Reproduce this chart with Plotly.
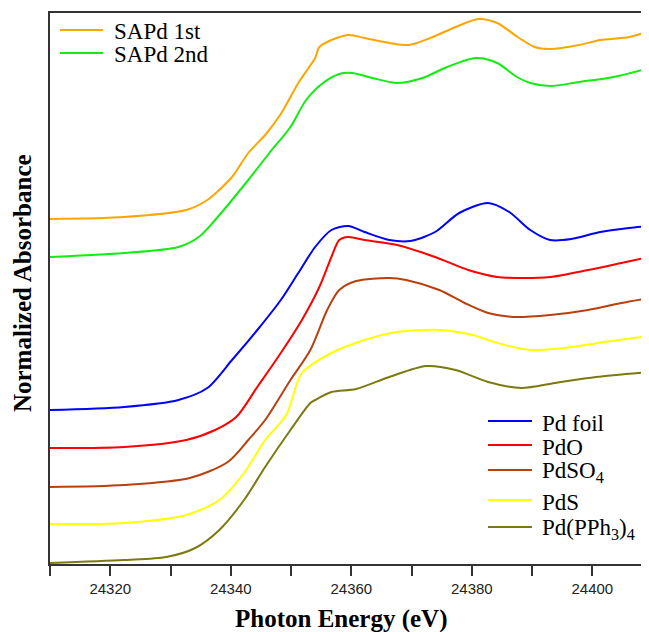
import plotly.graph_objects as go

# Photon energy (eV) and normalized absorbance (stacked with offsets)
sapd1_x = [24310.0, 24322.3, 24332.6, 24336.1, 24340.2, 24342.9, 24345.7, 24348.4, 24351.2, 24352.9,
           24354.0, 24354.7, 24356.7, 24359.5, 24362.2, 24366.3, 24369.5, 24373.1, 24377.3, 24381.1,
           24384.2, 24387.6, 24390.4, 24393.0, 24397.8, 24401.3, 24406.1, 24409.4]
sapd1_y = [3.45, 3.47, 3.54, 3.64, 3.87, 4.11, 4.29, 4.51, 4.81, 4.96,
           5.06, 5.17, 5.24, 5.29, 5.26, 5.21, 5.19, 5.26, 5.37, 5.45,
           5.41, 5.27, 5.17, 5.15, 5.19, 5.24, 5.27, 5.33]

sapd2_x = [24310.0, 24322.3, 24331.3, 24334.7, 24337.4, 24342.9, 24346.4, 24349.9, 24352.5,
           24355.3, 24358.0, 24360.1, 24363.5, 24367.6, 24371.8, 24375.9, 24380.7, 24384.2, 24387.5,
           24389.7, 24393.0, 24397.8, 24403.5, 24409.4]
sapd2_y = [3.07, 3.11, 3.17, 3.27, 3.44, 3.84, 4.11, 4.37, 4.64,
           4.81, 4.90, 4.91, 4.86, 4.81, 4.86, 4.97, 5.06, 5.01, 4.87,
           4.81, 4.78, 4.82, 4.87, 4.96]

foil_x = [24310.0, 24322.3, 24331.3, 24336.1, 24340.2, 24344.4, 24348.3, 24351.2, 24354.0, 24356.7,
          24359.5, 24362.2, 24366.3, 24369.8, 24373.9, 24377.9, 24382.7, 24386.2, 24389.7, 24393.0,
          24396.5, 24401.3, 24406.1, 24409.4]
foil_y = [1.54, 1.57, 1.64, 1.76, 2.04, 2.34, 2.64, 2.91, 3.17, 3.34,
          3.38, 3.32, 3.24, 3.23, 3.32, 3.51, 3.61, 3.52, 3.34, 3.24,
          3.25, 3.32, 3.36, 3.38]

pdo_x = [24310.0, 24322.3, 24332.6, 24337.4, 24340.9, 24344.4, 24348.3, 24351.8, 24354.7, 24356.7,
         24358.0, 24359.5, 24362.2, 24367.6, 24373.9, 24379.4, 24384.2, 24387.5, 24393.0, 24399.3,
         24404.8, 24409.4]
pdo_y = [1.16, 1.17, 1.24, 1.34, 1.47, 1.77, 2.11, 2.44, 2.77, 3.07,
         3.24, 3.27, 3.24, 3.19, 3.07, 2.94, 2.87, 2.86, 2.87, 2.94,
         3.01, 3.07]

pdso4_x = [24310.0, 24322.3, 24333.2, 24339.5, 24342.9, 24345.7, 24349.9, 24353.2, 24356.0, 24358.0,
           24360.8, 24366.3, 24369.1, 24374.6, 24378.8, 24382.7, 24386.9, 24393.0, 24399.3, 24404.8,
           24409.4]
pdso4_y = [0.77, 0.79, 0.86, 1.02, 1.24, 1.44, 1.84, 2.14, 2.54, 2.74,
           2.83, 2.86, 2.84, 2.74, 2.61, 2.51, 2.47, 2.49, 2.54, 2.61,
           2.66]

pds_x = [24310.0, 24322.3, 24332.6, 24338.1, 24342.2, 24345.7, 24349.2, 24351.8, 24356.7, 24362.2,
         24367.6, 24374.6, 24380.1, 24384.2, 24389.7, 24396.5, 24402.0, 24409.4]
pds_y = [0.40, 0.41, 0.49, 0.64, 0.91, 1.24, 1.49, 1.91, 2.11, 2.24,
         2.32, 2.34, 2.29, 2.21, 2.14, 2.17, 2.22, 2.28]

pph_x = [24310.0, 24322.3, 24329.3, 24334.1, 24338.1, 24342.2, 24345.7, 24349.9, 24353.2, 24354.0,
         24356.7, 24360.8, 24366.3, 24372.4, 24377.3, 24382.7, 24388.2, 24393.8, 24400.6, 24409.4]
pph_y = [0.01, 0.04, 0.07, 0.16, 0.34, 0.64, 0.97, 1.34, 1.61, 1.64,
         1.72, 1.75, 1.87, 1.98, 1.94, 1.82, 1.76, 1.81, 1.87, 1.92]

# labelled ticks every 20 eV, unlabelled ticks every 10 eV
x_major_start, x_major_step = 24320, 20
x_minor_start, x_minor_step = 24310, 10

series_names = ["SAPd 1st", "SAPd 2nd", "Pd foil", "PdO", "PdSO<sub>4</sub>", "PdS",
                "Pd(PPh<sub>3</sub>)<sub>4</sub>"]
series_x = [sapd1_x, sapd2_x, foil_x, pdo_x, pdso4_x, pds_x, pph_x]
series_y = [sapd1_y, sapd2_y, foil_y, pdo_y, pdso4_y, pds_y, pph_y]
series_colors = ["#FFA500", "#10EE10", "#0000FF", "#FF0000", "#B8400F", "#FFFF00", "#7A7A10"]

fig = go.Figure()
for name, xs, ys, col in zip(series_names, series_x, series_y, series_colors):
    fig.add_trace(go.Scatter(
        x=xs, y=ys, mode="lines", name=name, showlegend=False,
        line=dict(color=col, width=2, shape="spline", smoothing=0.8),
    ))

serif = "Liberation Serif, Times New Roman, serif"

# Two legend boxes (top-left and bottom-right), drawn in paper coordinates
def px_x(p):
    return (p - 50) / 599.0

def px_y(p):
    return (564 - p) / 551.0

legend_rows = [
    (60, 103, 112, 30), (60, 103, 112, 53),
    (488, 532, 540, 421), (488, 532, 540, 445), (488, 532, 540, 470),
    (488, 532, 540, 500), (488, 532, 540, 527),
]
shapes = []
annotations = []
for (lx0, lx1, tx, ry), name, col in zip(legend_rows, series_names, series_colors):
    shapes.append(dict(type="line", xref="paper", yref="paper",
                       x0=px_x(lx0), x1=px_x(lx1), y0=px_y(ry), y1=px_y(ry),
                       line=dict(color=col, width=2)))
    annotations.append(dict(text=name, xref="paper", yref="paper",
                            x=px_x(tx), y=px_y(ry + 2), xanchor="left", yanchor="middle",
                            showarrow=False, font=dict(family=serif, size=23, color="black")))

annotations += [
    dict(text="<b>Photon Energy (eV)</b>", xref="paper", yref="paper",
         x=0.486, y=-0.10, xanchor="center", yanchor="middle", showarrow=False,
         font=dict(family=serif, size=25, color="black")),
    dict(text="<b>Normalized Absorbance</b>", xref="paper", yref="paper",
         x=-0.045, y=0.51, xanchor="center", yanchor="middle", textangle=-90, showarrow=False,
         font=dict(family=serif, size=25, color="black")),
]

# page has an 8px body margin: figure of 641x624 fills the 649x632 window
fig.update_layout(
    width=641, height=624,
    margin=dict(l=42, r=0, t=5, b=68),
    paper_bgcolor="white", plot_bgcolor="white",
    font=dict(family=serif),
    showlegend=False,
    xaxis=dict(range=[24310, 24409.4], tickmode="linear", tick0=x_major_start, dtick=x_major_step,
               ticks="outside", ticklen=10, tickwidth=1.5, tickcolor="#333",
               minor=dict(tick0=x_minor_start, dtick=x_minor_step, ticks="outside", ticklen=10,
                          tickwidth=1.5, tickcolor="#333", showgrid=False),
               showline=True, linecolor="#333", linewidth=2, mirror=True,
               showgrid=False, zeroline=False, separatethousands=False, tickformat="d",
               tickfont=dict(family="Liberation Sans, Arial, sans-serif", size=15, color="#222")),
    yaxis=dict(range=[0, 5.51], showticklabels=False, ticks="",
               showline=True, linecolor="#333", linewidth=2,
               showgrid=False, zeroline=False),
    shapes=shapes,
    annotations=annotations,
)

fig.write_html("out.html")
